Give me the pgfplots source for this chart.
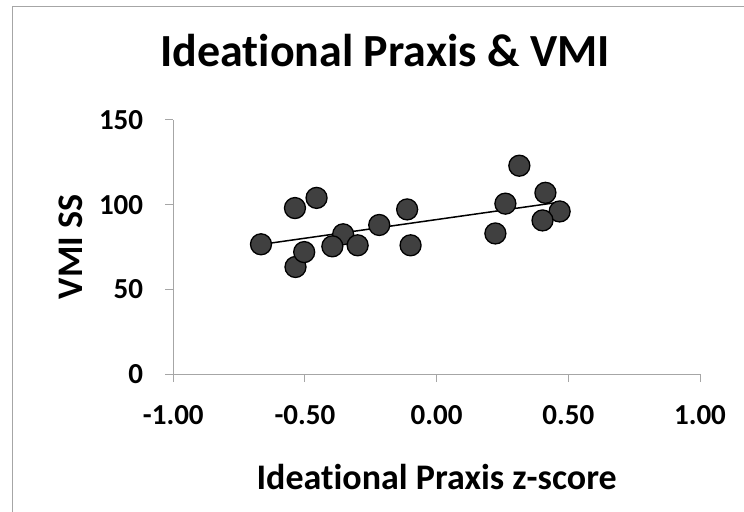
\documentclass[border=0pt]{standalone}
\usepackage{fontspec}
\setmainfont{Carlito}[Ligatures=NoCommon]
\usepackage{pgfplots}
\pgfplotsset{compat=1.18}
\definecolor{axisgray}{RGB}{166,166,166}
\definecolor{dotfill}{RGB}{64,64,64}

\begin{document}
\begin{tikzpicture}
\useasboundingbox (0,0) rectangle (744bp,512bp);
\draw[axisgray, line width=1bp] (12bp,-20bp) -- (12bp,505bp) -- (770bp,505bp);
\begin{axis}[
  at={(173.3bp,138bp)}, anchor=south west,
  scale only axis, width=526.7bp, height=254bp,
  xmin=-1, xmax=1, ymin=0, ymax=150,
  xtick={-1,-0.5,0,0.5,1},
  xticklabels={-1.00,-0.50,0.00,0.50,1.00},
  ytick={0,50,100,150},
  yticklabels={0,50,100,150},
  axis x line=bottom, axis y line=left,
  axis line style={-, axisgray, line width=1bp},
  tick style={axisgray, line width=1bp},
  tick align=outside, major tick length=8bp,
  ticklabel style={font=\fontsize{29bp}{34bp}\selectfont\bfseries},
  xticklabel style={anchor=north, inner sep=0pt, yshift=-23bp},
  yticklabel style={anchor=east, inner sep=0pt, xshift=-22bp},
  title={Ideational Praxis \& VMI},
  title style={at={(axis description cs:0.402,1.189)}, anchor=base,
    font=\fontsize{46bp}{55bp}\selectfont\bfseries},
  xlabel={Ideational Praxis z-score},
  xlabel style={at={(axis description cs:0.5,-0.455)}, anchor=base,
    font=\fontsize{36bp}{43bp}\selectfont\bfseries},
  ylabel={VMI SS},
  ylabel style={at={(axis description cs:-0.1728,0.5)}, anchor=base, rotate=0,
    font=\fontsize{36bp}{43bp}\selectfont\bfseries},
  clip=false,
]
\addplot[only marks, mark=*, mark size=10.5bp,
  mark options={fill=dotfill, draw=black, line width=1.3bp}] table {
x y
-0.667 76.6
-0.538 98
-0.536 63.2
-0.503 72
-0.456 104
-0.355 82.5
-0.396 75.4
-0.300 76
-0.218 88
-0.112 97.2
-0.099 76
0.223 83
0.261 100.6
0.314 123
0.467 96
0.402 90.7
0.413 107
};
% linear trend line
\addplot[black, line width=1.5bp] coordinates {(-0.667,76.5) (0.467,101.5)};
\end{axis}
\end{tikzpicture}
\end{document}
